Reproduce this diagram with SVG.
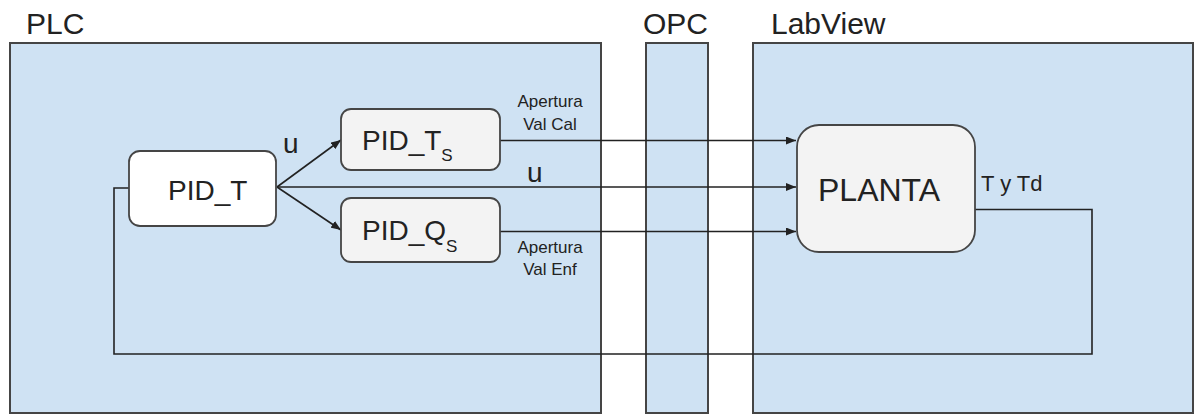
<svg xmlns="http://www.w3.org/2000/svg" width="1194" height="414" viewBox="0 0 1194 414">
  <style>
    .region { fill: #cfe2f3; stroke: #454545; stroke-width: 2; }
    .node { stroke: #454545; stroke-width: 1.8; }
    .title { font-family: "Liberation Sans", Arial, sans-serif; font-size: 30px; fill: #222; }
    .lbl { font-family: "Liberation Sans", Arial, sans-serif; fill: #222; }
    .conn { fill: none; stroke: #222; stroke-width: 1.6; }
  </style>
  <defs>
    <marker id="arrow" markerUnits="userSpaceOnUse" markerWidth="11" markerHeight="8" refX="10" refY="4" orient="auto">
      <path d="M0,0 L10,4 L0,8 z" fill="#222"/>
    </marker>
  </defs>
  <rect width="1194" height="414" fill="#ffffff"/>

  <g id="plc">
    <rect class="region" x="10" y="43" width="591" height="370"/>
    <text class="title" x="26" y="34">PLC</text>
  </g>
  <g id="opc">
    <rect class="region" x="646" y="43" width="62" height="370"/>
    <text class="title" x="643" y="34">OPC</text>
  </g>
  <g id="labview">
    <rect class="region" x="753" y="43" width="440" height="370"/>
    <text class="title" x="771" y="34">LabView</text>
  </g>

  <g id="connectors">
    <path class="conn" d="M277,187 L341,140" marker-end="url(#arrow)"/>
    <path class="conn" d="M277,187 L341,230" marker-end="url(#arrow)"/>
    <path class="conn" d="M277,187 H796" marker-end="url(#arrow)"/>
    <path class="conn" d="M500,140.5 H796" marker-end="url(#arrow)"/>
    <path class="conn" d="M500,231.5 H796" marker-end="url(#arrow)"/>
    <path class="conn" d="M975,209.5 H1092 V354 H114 V188 H129"/>
    <text class="lbl" x="283" y="153" font-size="28">u</text>
    <text class="lbl" x="527" y="182" font-size="28">u</text>
    <text class="lbl" x="550" y="107" font-size="17" text-anchor="middle">Apertura</text>
    <text class="lbl" x="550" y="130" font-size="17" text-anchor="middle">Val Cal</text>
    <text class="lbl" x="550" y="253" font-size="17" text-anchor="middle">Apertura</text>
    <text class="lbl" x="550" y="275" font-size="17" text-anchor="middle">Val Enf</text>
    <text class="lbl" x="981" y="191" font-size="22">T y Td</text>
  </g>

  <g id="pid_t">
    <rect class="node" x="129" y="151" width="147" height="75" rx="11" fill="#ffffff"/>
    <text class="lbl" x="168" y="200" font-size="28">PID_T</text>
  </g>
  <g id="pid_ts">
    <rect class="node" x="341" y="109" width="159" height="61" rx="10" fill="#f3f3f3"/>
    <text class="lbl" x="362" y="150" font-size="28">PID_T<tspan font-size="17" dy="11">S</tspan></text>
  </g>
  <g id="pid_qs">
    <rect class="node" x="341" y="198" width="159" height="64" rx="10" fill="#f3f3f3"/>
    <text class="lbl" x="362" y="240" font-size="28">PID_Q<tspan font-size="17" dy="12">S</tspan></text>
  </g>
  <g id="planta">
    <rect class="node" x="797" y="125" width="178" height="127" rx="22" fill="#f3f3f3"/>
    <text class="lbl" x="818" y="201" font-size="32">PLANTA</text>
  </g>
</svg>
